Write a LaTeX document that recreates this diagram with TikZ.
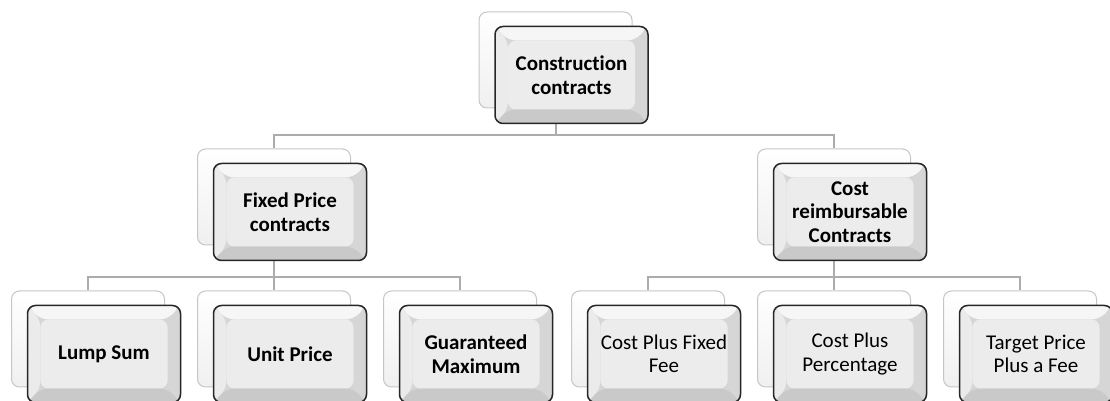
\documentclass[tikz,border=0pt]{standalone}
\usepackage{fontspec}
\setmainfont{Carlito}[Ligatures={NoCommon}]
\usetikzlibrary{positioning,calc}

\tikzset{
    backbox/.style={draw=gray!45, line width=1pt, rounded corners=8pt,
        minimum width=153pt, minimum height=96pt, top color=white, bottom color=gray!12},
    frontbox/.style={draw=black!85, line width=1.5pt, rounded corners=8pt,
        minimum width=153pt, minimum height=97pt, align=center, fill=gray!32,
        path picture={
            \coordinate (pnw) at (path picture bounding box.north west);
            \coordinate (pse) at (path picture bounding box.south east);
            \coordinate (pne) at (path picture bounding box.north east);
            \coordinate (psw) at (path picture bounding box.south west);
            \fill[gray!7] (pnw) -- (pne) -- ([shift={(-13pt,-14pt)}]pne) -- ([shift={(13pt,-14pt)}]pnw) -- cycle;
            \fill[gray!16] (pnw) -- ([shift={(13pt,-14pt)}]pnw) -- ([shift={(13pt,14pt)}]psw) -- (psw) -- cycle;
            \fill[gray!42] (psw) -- (pse) -- ([shift={(-13pt,14pt)}]pse) -- ([shift={(13pt,14pt)}]psw) -- cycle;
            \fill[gray!15] ([shift={(13pt,-14pt)}]pnw) rectangle ([shift={(-13pt,14pt)}]pse);
        }},
    boldlabel/.style={font=\fontsize{21}{23.5}\selectfont\bfseries},
    thinlabel/.style={font=\fontsize{21}{23.5}\selectfont},
    link/.style={draw=gray!65, line width=2pt},
}

\begin{document}
\begin{tikzpicture}[x=1pt,y=1pt]
    \useasboundingbox (0,0) rectangle (1110,401);
    % back boxes
    \node[backbox] (bcc) at (555.5,341) {};
    \node[backbox] (bfp) at (274,204) {};
    \node[backbox] (bcr) at (834,204) {};
    \foreach \x/\n in {88/ls,274/up,460/gm,648/cf,834/cp,1020/tp}
    {
        \node[backbox] (b\n) at (\x,62) {};
    }
    % connectors
    \coordinate (busone) at ([yshift=13pt]bfp.north);
    \coordinate (bustwo) at ([yshift=13pt]bls.north);
    \draw[link] (bcc.south) -- (bcc.south |- busone) -| (bfp.north);
    \draw[link] (bcc.south |- busone) -| (bcr.north);
    \foreach \n in {ls,up,gm}
        \draw[link] (bfp.south) -- (bfp.south |- bustwo) -| (b\n.north);
    \foreach \n in {cf,cp,tp}
        \draw[link] (bcr.south) -- (bcr.south |- bustwo) -| (b\n.north);
    % front boxes
    \node[frontbox,boldlabel] (cc) at ([shift={(16pt,-15pt)}]bcc) {Construction\\contracts};
    \node[frontbox,boldlabel] (fp) at ([shift={(16pt,-15pt)}]bfp) {Fixed Price\\contracts};
    \node[frontbox,boldlabel] (cr) at ([shift={(16pt,-15pt)}]bcr) {Cost\\reimbursable\\Contracts};
    \foreach \n/\t/\s in {ls/{Lump Sum}/boldlabel, up/{Unit Price}/boldlabel,
        gm/{Guaranteed\\Maximum}/boldlabel, cf/{Cost Plus Fixed\\Fee}/thinlabel,
        cp/{Cost Plus\\Percentage}/thinlabel, tp/{Target Price\\Plus a Fee}/thinlabel}
    {
        \node[frontbox,\s] (\n) at ([shift={(16pt,-15pt)}]b\n) {\t};
    }
\end{tikzpicture}
\end{document}
